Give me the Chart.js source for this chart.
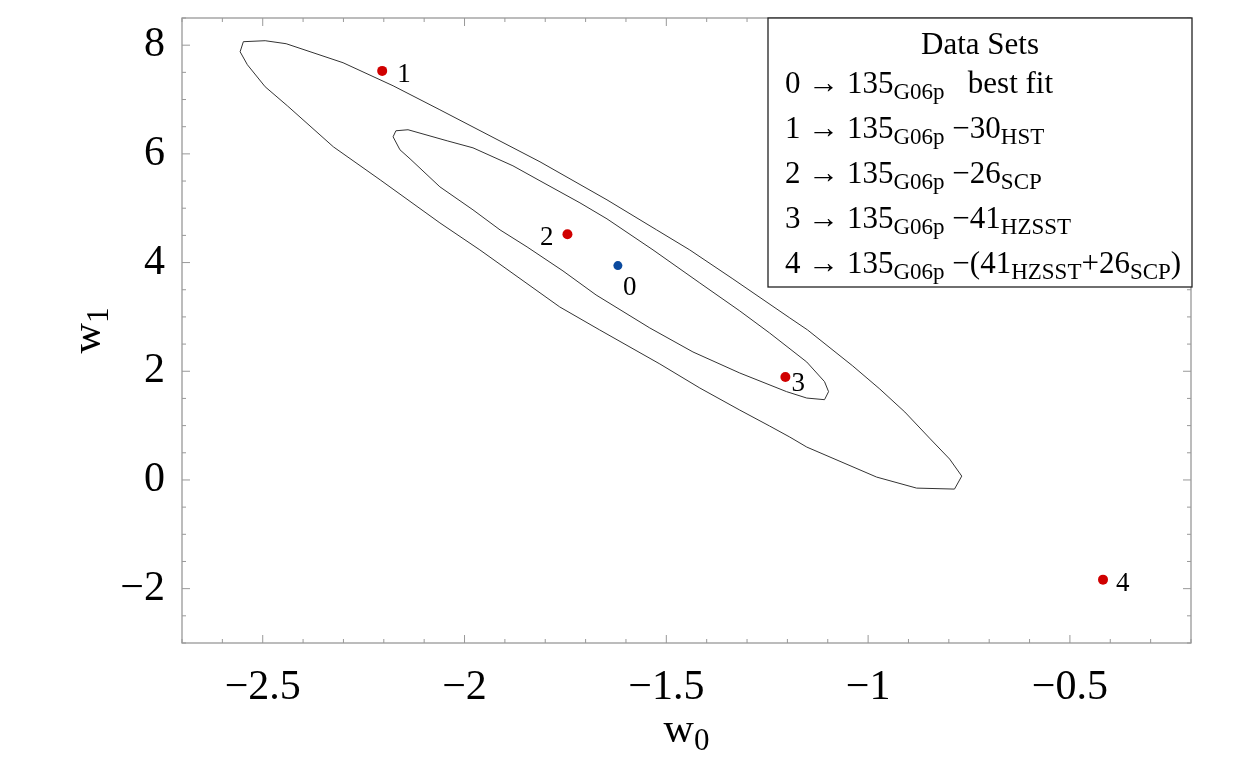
<!DOCTYPE html>
<html>
<head>
<meta charset="utf-8">
<script src="https://cdn.jsdelivr.net/npm/chart.js@4.4.1/dist/chart.umd.min.js"></script>
<style>
  html, body { margin: 0; padding: 0; background: #fff; }
  #wrap { width: 1250px; height: 773px; }
</style>
</head>
<body>
<div id="wrap"><canvas id="contourChart" width="1250" height="773"></canvas></div>
<script>
// tick labels
const xTicks = [-2.5, -2, -1.5, -1, -0.5];
const yTicks = [-2, 0, 2, 4, 6, 8];

// fitted points (0 = best fit, 1..4 = subsets removed)
const pointLabels = ['0', '1', '2', '3', '4'];
const pointX = [-1.620, -2.204, -1.745, -1.205, -0.418];
const pointY = [3.944, 7.527, 4.522, 1.894, -1.834];

// outer confidence contour
const outerX = [-2.556, -2.548, -2.494, -2.442, -2.301, -2.177, -2.061, -1.813, -1.647, -1.524,
  -1.442, -1.335, -1.194, -1.150, -1.038, -0.971, -0.909, -0.848, -0.798, -0.768,
  -0.786, -0.880, -0.979, -1.152, -1.194, -1.244, -1.318, -1.417, -1.516, -1.665,
  -1.764, -1.962, -2.061, -2.209, -2.325, -2.439, -2.494, -2.538, -2.556];
const outerY = [7.879, 8.064, 8.082, 8.027, 7.677, 7.253, 6.811, 5.854, 5.154, 4.601,
  4.233, 3.699, 2.981, 2.760, 2.097, 1.673, 1.250, 0.771, 0.384, 0.071,
  -0.168, -0.150, 0.053, 0.605, 0.789, 0.992, 1.286, 1.692, 2.134, 2.760,
  3.183, 4.233, 4.730, 5.522, 6.130, 6.885, 7.235, 7.640, 7.879];

// inner confidence contour
const innerX = [-2.177, -2.170, -2.140, -2.043, -1.979, -1.880, -1.813, -1.714, -1.647, -1.533,
  -1.417, -1.318, -1.244, -1.152, -1.108, -1.098, -1.108, -1.152, -1.202, -1.318,
  -1.434, -1.541, -1.674, -1.756, -1.845, -1.912, -1.979, -2.061, -2.135, -2.160, -2.177];
const innerY = [6.314, 6.425, 6.444, 6.240, 6.111, 5.780, 5.504, 5.099, 4.804, 4.233,
  3.625, 3.110, 2.704, 2.170, 1.809, 1.625, 1.477, 1.507, 1.625, 1.968,
  2.355, 2.797, 3.404, 3.846, 4.288, 4.601, 4.970, 5.393, 5.909, 6.075, 6.314];

// legend text: [text, isSubscript]
const legendTitle = 'Data Sets';
const legendRows = [
  [['0 \u2192 135', 0], ['G06p', 1], ['   best fit', 0]],
  [['1 \u2192 135', 0], ['G06p', 1], [' \u221230', 0], ['HST', 1]],
  [['2 \u2192 135', 0], ['G06p', 1], [' \u221226', 0], ['SCP', 1]],
  [['3 \u2192 135', 0], ['G06p', 1], [' \u221241', 0], ['HZSST', 1]],
  [['4 \u2192 135', 0], ['G06p', 1], [' \u2212(41', 0], ['HZSST', 1], ['+26', 0], ['SCP', 1], [')', 0]]
];

const SERIF = '"Liberation Serif", "Times New Roman", serif';
const RED = '#d00000';
const BLUE = '#0b4a9e';

const toXY = (xs, ys) => xs.map((x, i) => ({ x: x, y: ys[i] }));
const fmt = v => (v < 0 ? '\u2212' : '') + Math.abs(v);

function drawRich(ctx, segs, x, y, size, align) {
  const sub = Math.round(size * 0.74);
  let w = 0;
  segs.forEach(([t, s]) => {
    ctx.font = (s ? sub : size) + 'px ' + SERIF;
    w += ctx.measureText(t).width;
  });
  let cx = align === 'center' ? x - w / 2 : x;
  ctx.textAlign = 'left';
  ctx.textBaseline = 'alphabetic';
  segs.forEach(([t, s]) => {
    ctx.font = (s ? sub : size) + 'px ' + SERIF;
    ctx.fillText(t, cx, y + (s ? size * 0.2 : 0));
    cx += ctx.measureText(t).width;
  });
}

// frame with inward ticks, point labels, legend box, axis titles
const decorations = {
  id: 'decorations',
  afterDraw(chart) {
    const { ctx, chartArea: a, scales: { x, y } } = chart;
    ctx.save();

    // frame
    ctx.strokeStyle = '#999';
    ctx.lineWidth = 1.3;
    ctx.strokeRect(a.left, a.top, a.right - a.left, a.bottom - a.top);

    // inward ticks
    ctx.lineWidth = 1;
    ctx.beginPath();
    for (let i = -27; i <= -2; i++) {
      const v = i / 10;
      const px = x.getPixelForValue(v);
      const len = xTicks.some(t => Math.abs(t - v) < 1e-6) ? 8 : 4;
      ctx.moveTo(px, a.bottom); ctx.lineTo(px, a.bottom - len);
      ctx.moveTo(px, a.top); ctx.lineTo(px, a.top + len);
    }
    for (let i = -6; i <= 17; i++) {
      const v = i / 2;
      const py = y.getPixelForValue(v);
      const len = yTicks.includes(v) ? 8 : 4;
      ctx.moveTo(a.left, py); ctx.lineTo(a.left + len, py);
      ctx.moveTo(a.right, py); ctx.lineTo(a.right - len, py);
    }
    ctx.stroke();

    // point labels
    const offs = [[5, 29, 'left'], [15, 11, 'left'], [-14, 11, 'right'], [6, 14, 'left'], [13, 11, 'left']];
    ctx.fillStyle = '#000';
    ctx.font = '27px ' + SERIF;
    ctx.textBaseline = 'alphabetic';
    pointLabels.forEach((lab, i) => {
      const px = x.getPixelForValue(pointX[i]);
      const py = y.getPixelForValue(pointY[i]);
      ctx.textAlign = offs[i][2];
      ctx.fillText(lab, px + offs[i][0], py + offs[i][1]);
    });

    // legend box
    const bx = 768, by = a.top, bw = a.right + 1 - bx, bh = 269;
    ctx.fillStyle = '#fff';
    ctx.fillRect(bx, by, bw, bh);
    ctx.strokeStyle = '#222';
    ctx.lineWidth = 1.3;
    ctx.strokeRect(bx, by, bw, bh);
    ctx.fillStyle = '#000';
    drawRich(ctx, [[legendTitle, 0]], bx + bw / 2, by + 36, 31, 'center');
    legendRows.forEach((row, i) => {
      drawRich(ctx, row, 785, by + 75 + i * 45, 31, 'left');
    });

    // axis titles
    const midX = (a.left + a.right) / 2;
    const midY = (a.top + a.bottom) / 2;
    drawRich(ctx, [['w', 0], ['0', 1]], midX, 742, 42, 'center');
    ctx.translate(100, midY);
    ctx.rotate(-Math.PI / 2);
    drawRich(ctx, [['w', 0], ['1', 1]], 0, 0, 42, 'center');

    ctx.restore();
  }
};

function createContourChart() {
  const ctx = document.getElementById('contourChart').getContext('2d');
  const tickFont = { family: SERIF, size: 42 };
  new Chart(ctx, {
    type: 'scatter',
    data: {
      datasets: [
        {
          label: 'best fit',
          data: toXY(pointX.slice(0, 1), pointY.slice(0, 1)),
          backgroundColor: BLUE,
          borderWidth: 0,
          pointRadius: 4.5,
          order: 0
        },
        {
          label: 'subsets',
          data: toXY(pointX.slice(1), pointY.slice(1)),
          backgroundColor: RED,
          borderWidth: 0,
          pointRadius: 5,
          order: 0
        },
        {
          label: 'outer',
          data: toXY(outerX, outerY),
          showLine: true,
          pointRadius: 0,
          borderColor: '#333',
          borderWidth: 1,
          tension: 0,
          order: 1
        },
        {
          label: 'inner',
          data: toXY(innerX, innerY),
          showLine: true,
          pointRadius: 0,
          borderColor: '#333',
          borderWidth: 1,
          tension: 0,
          order: 1
        }
      ]
    },
    options: {
      responsive: false,
      animation: false,
      devicePixelRatio: 1,
      layout: { padding: { top: 18, right: 59, left: 0, bottom: 0 } },
      plugins: {
        legend: { display: false },
        tooltip: { enabled: false }
      },
      scales: {
        x: {
          type: 'linear',
          min: -2.7,
          max: -0.2,
          afterBuildTicks: s => { s.ticks = xTicks.map(v => ({ value: v })); },
          afterFit: s => { s.height = 130; s.paddingLeft = 0; s.paddingRight = 0; },
          grid: { display: false },
          border: { display: false },
          ticks: { font: tickFont, color: '#000', padding: 12, maxRotation: 0, callback: fmt }
        },
        y: {
          type: 'linear',
          min: -3,
          max: 8.5,
          afterBuildTicks: s => { s.ticks = yTicks.map(v => ({ value: v })); },
          afterFit: s => { s.width = 182; s.paddingTop = 0; s.paddingBottom = 0; },
          grid: { display: false },
          border: { display: false },
          ticks: { font: tickFont, color: '#000', padding: 9, callback: fmt }
        }
      }
    },
    plugins: [decorations]
  });
}

document.addEventListener('DOMContentLoaded', () => {
  createContourChart();
});
</script>
</body>
</html>
